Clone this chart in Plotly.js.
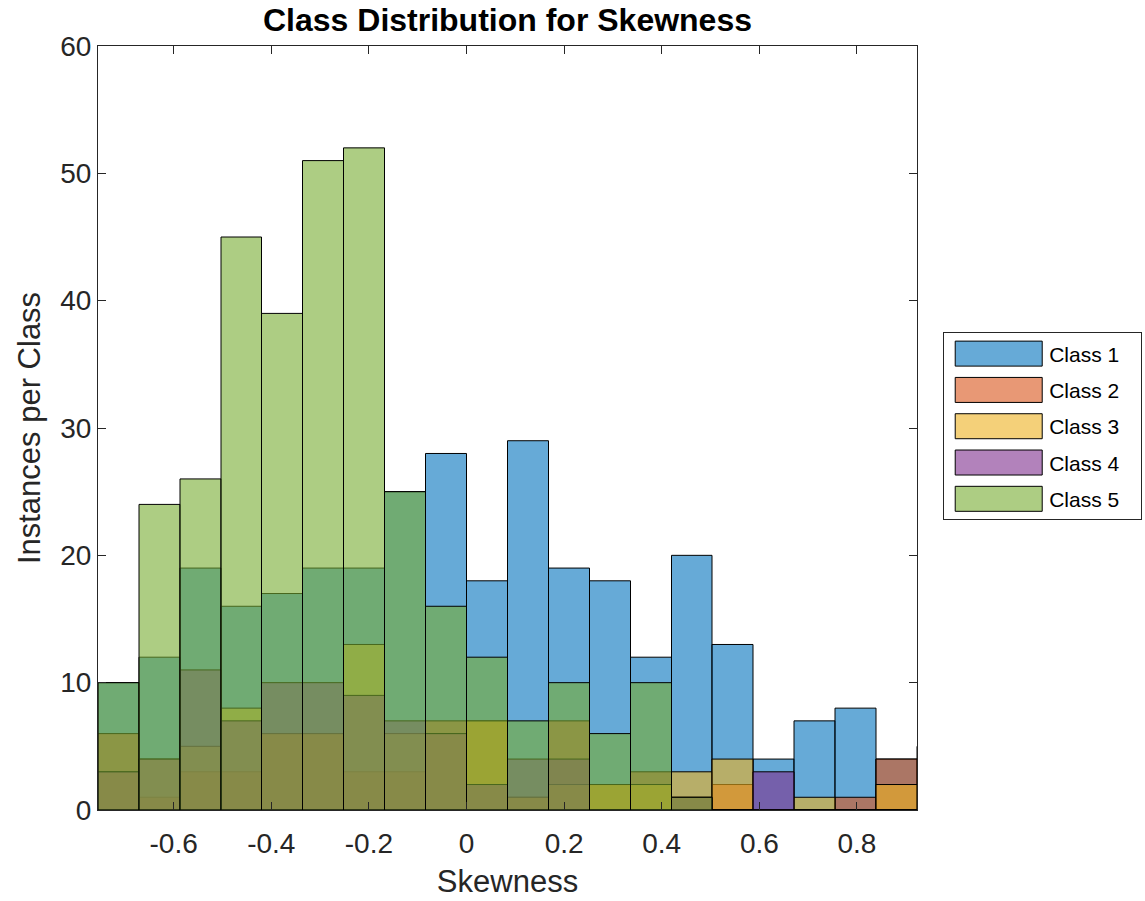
<!DOCTYPE html>
<html>
<head>
<meta charset="utf-8">
<script src="https://cdn.plot.ly/plotly-3.0.1.min.js"></script>
<style>
  html, body { margin: 0; padding: 0; background: #ffffff; }
  #chart { width: 1145px; height: 901px; }
</style>
</head>
<body>
<div id="chart"></div>
<script>
// Histogram bin edges (skewness), 21 bins; the last one lies just past the axis limit
const binEdges = [-0.755, -0.671, -0.587, -0.503, -0.420, -0.336, -0.252, -0.168, -0.084, 0,
                  0.084, 0.168, 0.252, 0.336, 0.420, 0.503, 0.587, 0.671, 0.755, 0.839, 0.923, 1.007];

// Counts per bin for each class
const class1 = [10, 12, 19, 16, 17, 19, 19, 25, 28, 18, 29, 19, 18, 12, 20, 13, 4, 7, 8, 4, 5];
const class2 = [ 6,  1,  3,  3,  6,  6,  3,  3,  7,  7,  1,  7,  2,  3,  1,  2, 0, 0, 1, 4, 0];
const class3 = [ 3,  4,  5,  8,  6,  6, 13,  6,  6,  7,  1,  2,  2,  2,  3,  4, 0, 1, 0, 2, 0];
const class4 = [ 3,  4, 11,  7, 10, 10,  9,  7,  6,  2,  4,  4,  0,  0,  1,  0, 3, 0, 0, 0, 0];
const class5 = [10, 24, 26, 45, 39, 51, 52, 25, 16, 12,  7, 10,  6, 10,  1,  0, 0, 0, 0, 0, 0];

const classNames = ['Class 1', 'Class 2', 'Class 3', 'Class 4', 'Class 5'];
const classColors = ['rgba(0,114,189,0.6)', 'rgba(217,83,25,0.6)', 'rgba(237,177,32,0.6)',
                     'rgba(126,47,142,0.6)', 'rgba(119,172,48,0.6)'];

const xTickVals = [-0.6, -0.4, -0.2, 0, 0.2, 0.4, 0.6, 0.8];
const xTickText = ['-0.6', '-0.4', '-0.2', '0', '0.2', '0.4', '0.6', '0.8'];
const yTickVals = [0, 10, 20, 30, 40, 50, 60];

const binCenters = binEdges.slice(0, -1).map((e, i) => (e + binEdges[i + 1]) / 2);
const binWidths = binEdges.slice(0, -1).map((e, i) => binEdges[i + 1] - e);

const FONT = '"Liberation Sans", Arial, Helvetica, sans-serif';
const INK = '#262626';

const traces = [class1, class2, class3, class4, class5].map((counts, k) => ({
  type: 'bar',
  name: classNames[k],
  legendgroup: 'g' + k,
  x: binCenters,
  y: counts,
  width: binWidths,
  marker: { color: classColors[k], line: { color: '#000000', width: 1 } },
  hoverinfo: 'skip'
}));

const axisCommon = {
  showline: true, linecolor: INK, linewidth: 1, mirror: 'ticks',
  ticks: 'inside', ticklen: 8, tickcolor: INK, tickwidth: 1,
  showgrid: false, zeroline: false,
  tickfont: { family: FONT, size: 28, color: INK }
};

const layout = {
  width: 1145, height: 901,
  margin: { l: 98, r: 228, t: 46, b: 91, pad: 0 },
  paper_bgcolor: '#ffffff', plot_bgcolor: '#ffffff',
  barmode: 'overlay', bargap: 0,
  title: {
    text: '<b>Class Distribution for Skewness</b>',
    font: { family: FONT, size: 32, color: '#000000' },
    x: 0.5, xref: 'paper', xanchor: 'center',
    y: 0.978, yref: 'container', yanchor: 'middle'
  },
  xaxis: Object.assign({}, axisCommon, {
    range: [binEdges[0], binEdges[20]],
    tickmode: 'array', tickvals: xTickVals, ticktext: xTickText,
    ticklabelstandoff: 8,
    title: { text: 'Skewness', font: { family: FONT, size: 31, color: INK }, standoff: 12 }
  }),
  yaxis: Object.assign({}, axisCommon, {
    range: [0, 60],
    tickmode: 'array', tickvals: yTickVals,
    title: { text: 'Instances per Class', font: { family: FONT, size: 31, color: INK }, standoff: 10 }
  }),
  showlegend: true,
  legend: {
    x: 1.032, xanchor: 'left', y: 0.502, yanchor: 'middle',
    bordercolor: INK, borderwidth: 1, bgcolor: '#ffffff',
    font: { family: FONT, size: 21, color: '#000000' },
    itemwidth: 95, tracegroupgap: 6, traceorder: 'grouped',
    itemclick: false, itemdoubleclick: false
  }
};

Plotly.newPlot('chart', traces, layout, { staticPlot: true, displayModeBar: false }).then(gd => {
  // Widen the legend swatches into long rectangles placed just left of each label
  gd.querySelectorAll('.legend .traces').forEach(item => {
    const path = item.querySelector('.legendpoints path');
    const text = item.querySelector('text.legendtext');
    if (!path || !text) return;
    path.setAttribute('d', 'M43.5,12.5H-43.5V-12.5H43.5Z');
    path.style.strokeWidth = '1px';
    path.style.stroke = '#000000';
    const pr = path.getBoundingClientRect();
    const tr = text.getBoundingClientRect();
    const dx = (tr.left - 7 - pr.width / 2) - (pr.left + pr.width / 2);
    const prev = path.getAttribute('transform') || '';
    path.setAttribute('transform', prev + ' translate(' + dx + ',0)');
  });
  // Extend the legend box to leave room on the right of the labels
  const bg = gd.querySelector('.legend rect.bg');
  if (bg) bg.setAttribute('width', '198');
});
</script>
</body>
</html>
